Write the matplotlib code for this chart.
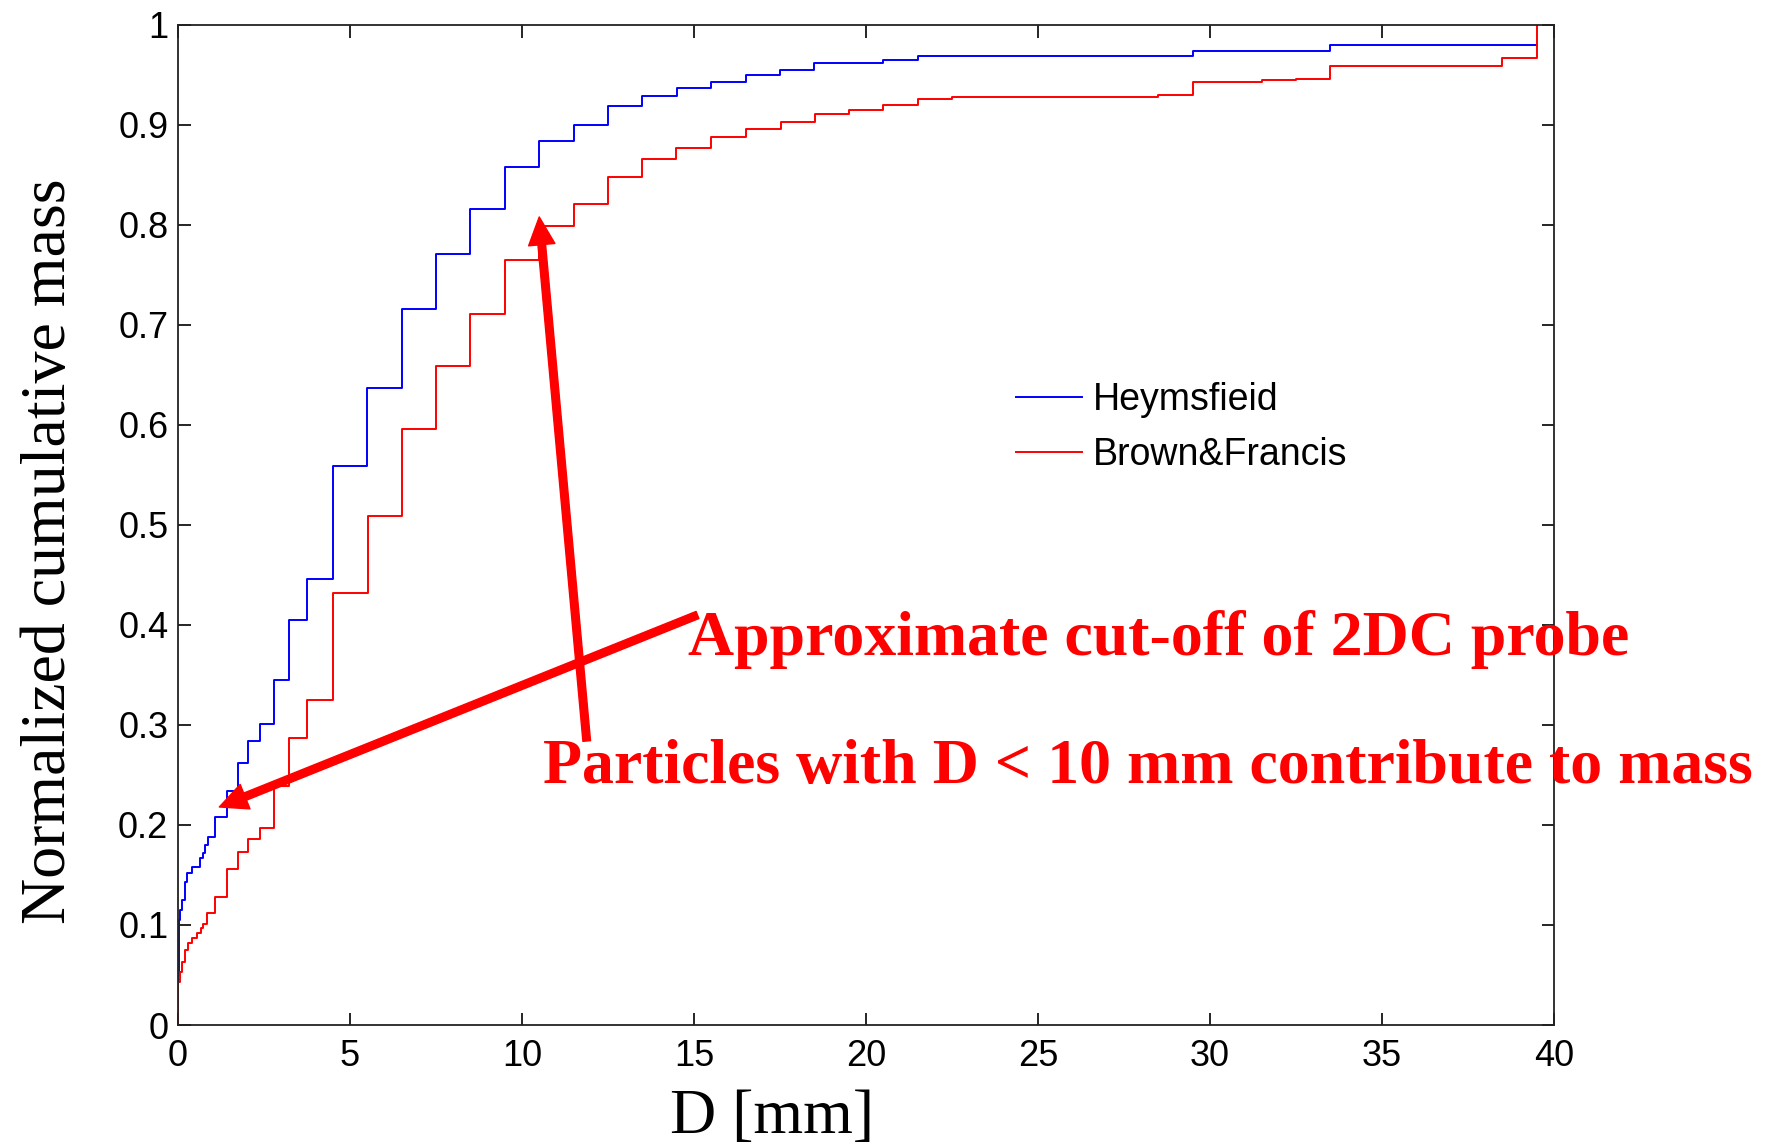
import numpy as np
import matplotlib
matplotlib.use('Agg')
import matplotlib.pyplot as plt
from matplotlib.ticker import FuncFormatter

# step edges (D in mm) and normalized cumulative mass
heym_d = [0, 0, 0.02, 0.04, 0.06, 0.12, 0.2, 0.27, 0.4, 0.64, 0.74, 0.78, 0.88,
          1.08, 1.43, 1.73, 2.03, 2.38, 2.79, 3.24, 3.74, 4.51, 5.5, 6.5, 7.5,
          8.5, 9.49, 10.49, 11.5, 12.5, 13.5, 14.5, 15.5, 16.5, 17.5, 18.5,
          20.5, 21.5, 29.5, 33.5, 39.5]
heym_m = [0, 0.05, 0.092, 0.105, 0.115, 0.125, 0.143, 0.152, 0.158, 0.167,
          0.172, 0.18, 0.188, 0.208, 0.234, 0.262, 0.284, 0.301, 0.345, 0.405,
          0.446, 0.559, 0.637, 0.716, 0.771, 0.816, 0.858, 0.884, 0.9, 0.919,
          0.929, 0.937, 0.943, 0.95, 0.955, 0.962, 0.965, 0.969, 0.974, 0.98,
          0.98]

bf_d = [0, 0, 0.06, 0.12, 0.19, 0.3, 0.4, 0.54, 0.66, 0.74, 0.85, 1.08, 1.43,
        1.73, 2.03, 2.38, 2.79, 3.24, 3.74, 4.51, 5.51, 6.52, 7.5, 8.5, 9.49,
        10.49, 11.5, 12.5, 13.48, 14.48, 15.49, 16.5, 17.52, 18.52, 19.5,
        20.49, 21.5, 22.5, 28.5, 29.5, 31.5, 32.5, 33.5, 38.5, 39.5]
bf_m = [0, 0.043, 0.053, 0.063, 0.075, 0.082, 0.087, 0.092, 0.097, 0.101,
        0.112, 0.128, 0.156, 0.173, 0.186, 0.197, 0.239, 0.287, 0.325, 0.432,
        0.509, 0.596, 0.659, 0.711, 0.765, 0.799, 0.821, 0.848, 0.866, 0.877,
        0.888, 0.896, 0.903, 0.911, 0.915, 0.92, 0.926, 0.928, 0.93, 0.943,
        0.945, 0.946, 0.959, 0.967, 1.0]

x_ticks = np.arange(0, 41, 5)
y_ticks = np.round(np.arange(0, 1.01, 0.1), 1)

serif = 'Liberation Serif'
sans = 'Liberation Sans'

fig = plt.figure(figsize=(17.68, 11.45), dpi=100)
ax = fig.add_axes([0.1007, 0.1048, 0.7783, 0.8734])

ax.step(heym_d, heym_m, where='post', color='#0000ff', lw=1.4, label='Heymsfieid')
ax.step(bf_d, bf_m, where='post', color='#ff0000', lw=1.4, label='Brown&Francis')

ax.set_xlim(0, 40)
ax.set_ylim(0, 1)
ax.set_xticks(x_ticks)
ax.set_yticks(y_ticks)
ax.yaxis.set_major_formatter(FuncFormatter(lambda v, p: '%g' % v))
ax.tick_params(direction='in', length=9, width=1.2, top=True, right=True,
               labelsize=26)
ax.tick_params(axis='x', pad=10)
ax.tick_params(axis='y', pad=7)
for lab in ax.get_xticklabels() + ax.get_yticklabels():
    lab.set_fontfamily(sans)
for s in ax.spines.values():
    s.set_linewidth(1.3)
    s.set_color('#222222')

ax.set_xlabel('D [mm]', fontsize=46, fontfamily=serif, labelpad=11)
ax.xaxis.label.set_x(0.432)
ax.set_ylabel('Normalized cumulative mass', fontsize=46, fontfamily=serif,
              labelpad=28)
ax.yaxis.label.set_y(0.474)

leg = ax.legend(loc='upper left', bbox_to_anchor=(0.609, 0.643), frameon=False,
                prop={'family': sans, 'size': 27}, handlelength=1.75,
                handletextpad=0.3, labelspacing=0.5, borderpad=0,
                borderaxespad=0)

# annotations
arrow_kw = dict(color='#ff0000', width=5.5, headwidth=19, headlength=20,
                shrink=0)
ax.annotate('', xy=(1.2, 0.218), xytext=(15.1, 0.41), arrowprops=arrow_kw)
ax.annotate('', xy=(10.5, 0.808), xytext=(11.88, 0.284), arrowprops=arrow_kw)

ax.text(14.83, 0.37, 'Approximate cut-off of 2DC probe', color='#ff0000',
        fontsize=46, fontweight='bold', fontfamily=serif, ha='left',
        va='baseline', clip_on=False)
ax.text(10.62, 0.242, 'Particles with D < 10 mm contribute to mass',
        color='#ff0000', fontsize=46, fontweight='bold', fontfamily=serif,
        ha='left', va='baseline', clip_on=False)

fig.savefig('out.png', dpi=100)
